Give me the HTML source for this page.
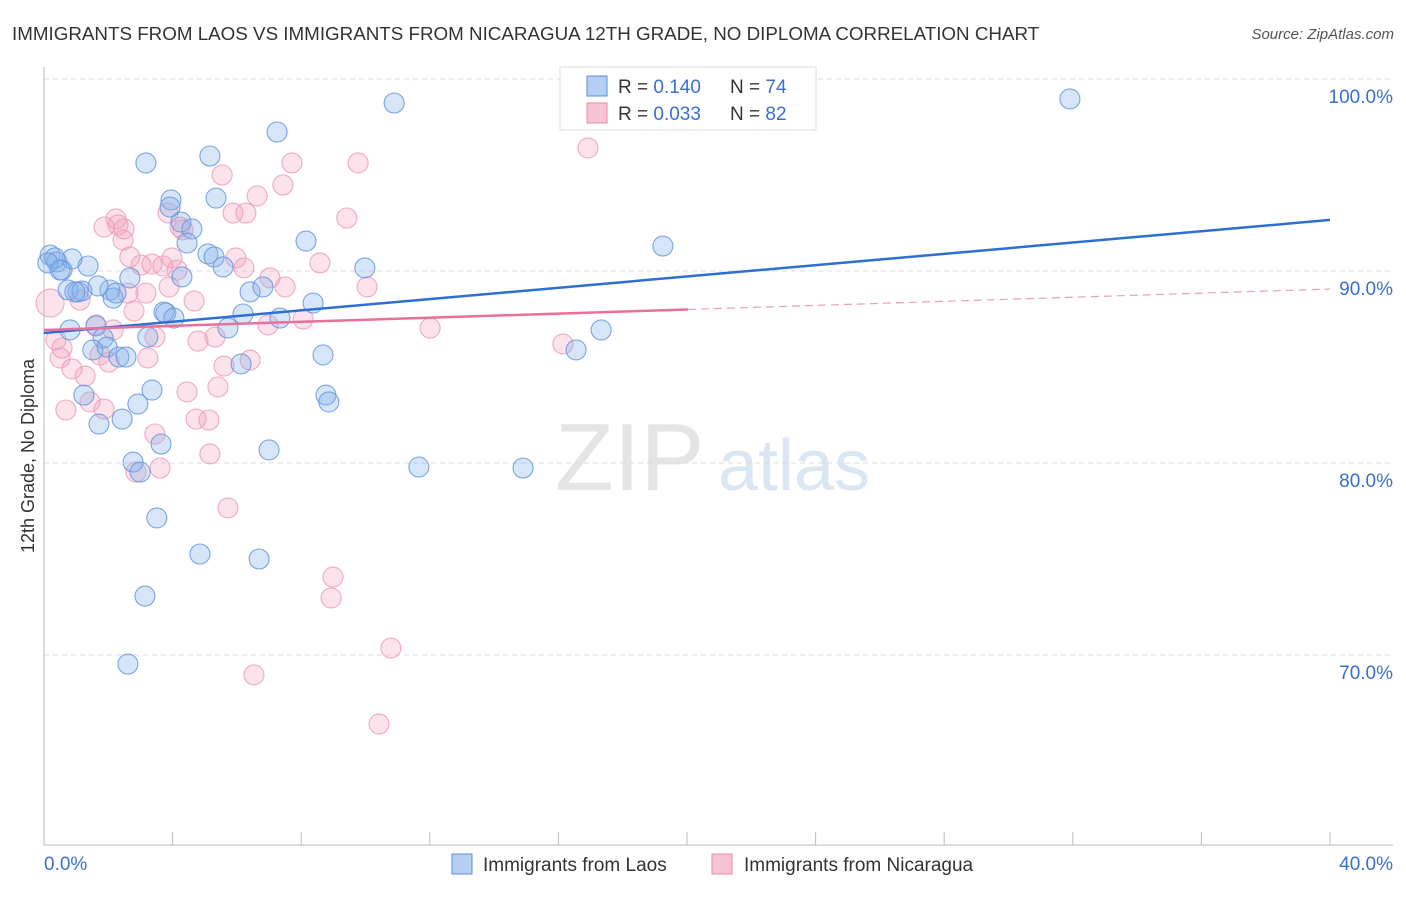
<!DOCTYPE html>
<html><head><meta charset="utf-8"><style>
body{margin:0;background:#fff;font-family:"Liberation Sans",sans-serif}
svg text{font-family:"Liberation Sans",sans-serif}
</style></head><body>
<svg id="c" width="1406" height="892">
<text x="12" y="40" font-size="18.8" fill="#333">IMMIGRANTS FROM LAOS VS IMMIGRANTS FROM NICARAGUA 12TH GRADE, NO DIPLOMA CORRELATION CHART</text>
<text x="1394" y="39" font-size="15" fill="#555" font-style="italic" text-anchor="end">Source: ZipAtlas.com</text>
<text transform="translate(34,456) rotate(-90)" font-size="18" fill="#333" text-anchor="middle">12th Grade, No Diploma</text>
<text x="555" y="490" font-size="96" fill="#e4e4e4" font-family="Liberation Serif">ZIP</text>
<text x="718" y="490" font-size="72" fill="#dbe6f5">atlas</text>
<g id="grid"></g><g id="axes"></g><g id="pts"></g><g id="lines"></g>
<g>
<rect x="560" y="67" width="256" height="63" fill="#fff" stroke="#ddd"/>
<rect x="587" y="76" width="20" height="20" fill="#b5cff2" stroke="#5b8fd9"/>
<rect x="587" y="103" width="20" height="20" fill="#f7c3d3" stroke="#e98aa8"/>
<text x="618" y="93" font-size="19" fill="#333">R = <tspan fill="#3a6fd0">0.140</tspan><tspan x="730">N = </tspan><tspan fill="#3a6fd0">74</tspan></text>
<text x="618" y="120" font-size="19" fill="#333">R = <tspan fill="#3a6fd0">0.033</tspan><tspan x="730">N = </tspan><tspan fill="#3a6fd0">82</tspan></text>
</g>
<g>
<rect x="452" y="854" width="20" height="20" fill="#b5cff2" stroke="#5b8fd9"/>
<text x="483" y="871" font-size="19" fill="#333">Immigrants from Laos</text>
<rect x="712" y="854" width="20" height="20" fill="#f7c3d3" stroke="#e98aa8"/>
<text x="744" y="871" font-size="19" fill="#333">Immigrants from Nicaragua</text>
</g>
</svg>
<script>
const yTicks=[100,90,80,70];
const xTickLabels=["0.0%","40.0%"];
const laosX=[0.19,0.40,0.56,0.87,1.37,0.34,0.12,0.50,0.75,1.06,1.18,0.96,2.05,2.15,2.24,2.67,1.68,0.81,1.62,1.84,1.52,1.96,2.33,2.55,1.24,1.71,2.43,2.92,3.36,2.77,2.99,3.64,3.51,3.14,2.61,4.85,6.69,7.00,3.17,3.95,3.92,4.26,4.60,4.45,4.29,3.79,3.73,4.04,3.23,5.16,5.35,5.10,5.29,5.57,6.19,5.72,6.13,6.41,6.81,7.25,8.15,7.34,8.37,8.68,8.77,8.86,9.98,10.89,11.66,14.90,16.55,17.33,19.25,31.91];
const laosY=[90.83,90.47,90.05,90.63,90.26,90.68,90.42,90.05,89.01,88.91,88.96,88.91,89.01,88.59,88.85,89.64,89.22,86.93,87.14,86.51,85.89,86.04,85.52,85.52,83.54,82.03,82.29,83.07,83.80,80.05,79.53,80.99,77.14,73.07,69.53,75.26,75.00,80.68,95.63,93.70,93.33,92.55,92.19,91.46,89.69,87.81,87.86,87.55,86.56,95.99,93.80,90.89,90.73,90.21,87.76,87.03,85.16,88.91,89.17,97.24,91.56,87.55,88.33,85.63,83.54,83.18,90.16,98.75,79.79,79.74,85.89,86.93,91.30,98.96];
const nicX=[0.19,0.37,0.56,0.50,0.68,0.87,1.12,1.28,1.43,1.62,1.74,1.87,2.02,2.24,2.30,2.46,1.87,2.49,2.15,2.67,2.61,2.80,3.02,3.17,3.23,3.36,3.45,3.45,3.61,2.86,3.70,3.86,3.98,4.14,4.23,4.32,3.89,4.45,4.67,4.79,4.73,5.16,5.13,5.32,5.41,5.54,5.60,5.72,5.88,5.97,6.28,6.22,6.41,6.53,6.63,7.03,6.97,7.43,7.50,7.71,8.06,8.58,8.99,8.93,9.42,9.77,10.05,10.79,10.42,12.01,16.14,16.92];
const nicY=[88.33,86.41,85.99,85.47,82.76,84.90,88.49,84.53,83.18,87.19,85.63,82.81,85.26,92.71,92.40,91.61,92.29,92.19,86.93,90.73,88.85,87.92,90.31,88.85,85.47,90.36,86.56,81.51,79.74,79.53,90.26,93.02,90.68,90.05,92.29,92.14,89.17,83.70,88.44,86.35,82.29,80.47,82.24,86.56,83.96,95.00,85.05,77.66,93.02,90.68,93.02,90.16,85.36,68.96,93.91,89.64,87.19,94.48,89.17,95.63,87.50,90.42,74.06,72.97,92.76,95.63,89.17,70.36,66.41,87.03,86.20,96.41];
const laosTrend=[86.77,92.66];
const nicTrend=[86.93,89.06];
const nicSolidEnd=20.03;
const NS="http://www.w3.org/2000/svg";
const X=v=>44+v/40*1286, Y=v=>79+(100-v)*19.2;
function mk(t,a,p){const e=document.createElementNS(NS,t);for(const k in a)e.setAttribute(k,a[k]);document.getElementById(p).appendChild(e);return e;}
yTicks.forEach(t=>{
 const g=mk('line',{x1:44,x2:1393,y1:Y(t),y2:Y(t),stroke:'#dcdcdc','stroke-dasharray':'5,4'},'grid');
 
 
 const l=mk('text',{x:1393,y:Y(t)+24,'font-size':19,fill:'#3a6fd0','text-anchor':'end'},'grid');
 l.textContent=t.toFixed(1)+'%';
 
 
});
mk('line',{x1:44,x2:44,y1:67,y2:845,stroke:'#bbb'},'axes');
mk('line',{x1:44,x2:1393,y1:845,y2:845,stroke:'#bbb'},'axes');
for(let i=0;i<=10;i++){const t=mk('line',{x1:X(i*4),x2:X(i*4),y1:832,y2:845,stroke:'#bbb'},'axes');
 
 }
const x0=mk('text',{x:44,y:870,'font-size':19,fill:'#3a6fd0'},'axes');x0.textContent=xTickLabels[0];


const x1=mk('text',{x:1393,y:870,'font-size':19,fill:'#3a6fd0','text-anchor':'end'},'axes');x1.textContent=xTickLabels[1];


nicX.forEach((v,i)=>{const c=mk('circle',{cx:X(v),cy:Y(nicY[i]),r:i==0?14:10,fill:'rgba(242,160,188,0.3)',stroke:'#ee9cb7','stroke-opacity':0.85,'stroke-width':1.1},'pts');
 
 });
laosX.forEach((v,i)=>{const c=mk('circle',{cx:X(v),cy:Y(laosY[i]),r:10,fill:'rgba(130,175,235,0.33)',stroke:'#6697df','stroke-opacity':0.85,'stroke-width':1.1},'pts');
 
 });
const bl=mk('line',{x1:X(0),y1:Y(laosTrend[0]),x2:X(40),y2:Y(laosTrend[1]),stroke:'#2e6fd4','stroke-width':2.5},'lines');


const py=v=>nicTrend[0]+(nicTrend[1]-nicTrend[0])*v/40;
const pl=mk('line',{x1:X(0),y1:Y(py(0)),x2:X(nicSolidEnd),y2:Y(py(nicSolidEnd)),stroke:'#e8709a','stroke-width':2.5},'lines');


const pd=mk('line',{x1:X(nicSolidEnd),y1:Y(py(nicSolidEnd)),x2:X(40),y2:Y(py(40)),stroke:'#e8a0b8','stroke-width':1.2,'stroke-dasharray':'8,5'},'lines');


</script>
</body></html>
